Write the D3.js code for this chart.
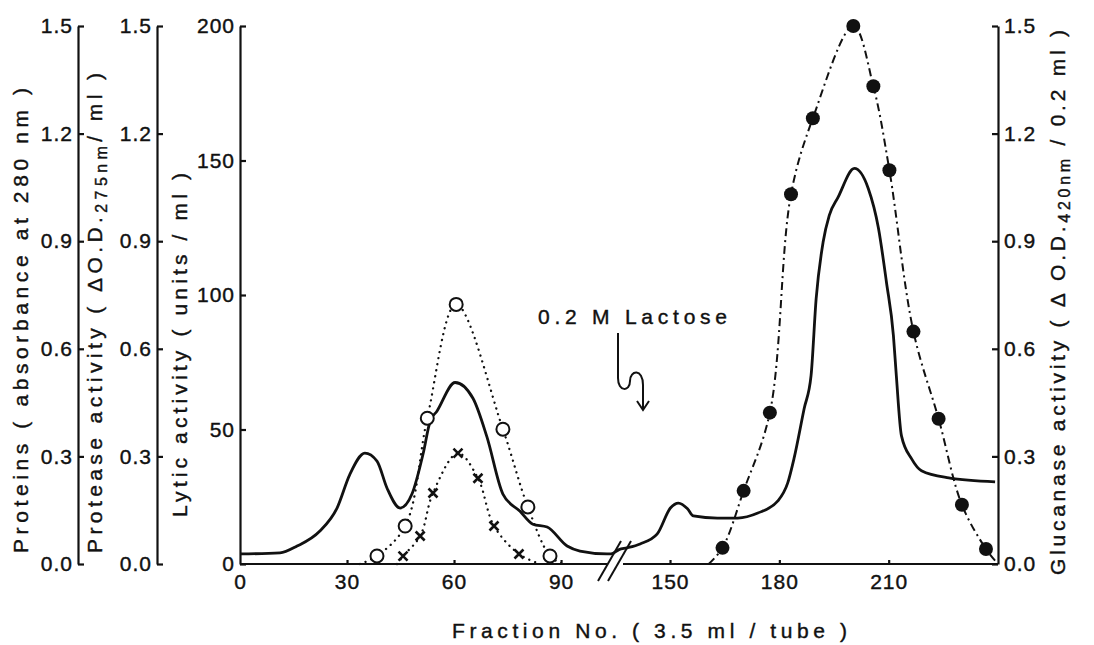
<!DOCTYPE html>
<html>
<head>
<meta charset="utf-8">
<style>
    body { margin: 0; background: #fff; }
    svg { display: block; font-family: "Liberation Sans", Arial, sans-serif; }
    .axis text { font-size: 21px; fill: #111; letter-spacing: 1px; stroke: #111; stroke-width: 0.4; }
    .axis line, .axis path { stroke: #111; stroke-width: 2.2; }
    .title { font-size: 21px; fill: #111; stroke: #111; stroke-width: 0.4; }
    .sub { font-size: 16px; }
</style>
</head>
<body>
<svg width="1094" height="645"></svg>

<script src="https://d3js.org/d3.v7.min.js"></script>
<script>
    // fraction numbers and values
    let xTicks = [0, 30, 60, 90, 150, 180, 210]
    let odTicks = [0, 0.3, 0.6, 0.9, 1.2, 1.5]
    let lyticTicks = [0, 50, 100, 150, 200]

    // proteins, solid line (left axis 1)
    let proteinFrac = [0, 11.2, 16, 22.4, 27.2, 30.8, 35, 38.4, 41.2, 44.9,
        48.2, 51.3, 53.3, 55.2, 60.3, 65.3, 69.2, 73.7, 78.5, 82.1,
        86.1, 91.7, 95.3, 102.9, 104, 136, 138.2, 141.8, 146.5, 150.1,
        152.3, 154.8, 156.4, 163, 168.6, 174.1, 179.6, 182.3, 184, 186.8,
        188.7, 190.1, 192, 193.7, 196.1, 200.6, 204.4, 207.2, 209.4, 211.3,
        212.1, 213.5, 216.3, 219, 226.5, 239.2]
    let proteinAbs = [0.028, 0.031, 0.050, 0.092, 0.156, 0.250, 0.309, 0.287, 0.212, 0.156,
        0.195, 0.306, 0.398, 0.426, 0.506, 0.462, 0.355, 0.195, 0.147, 0.111,
        0.103, 0.050, 0.036, 0.028, 0.028, 0.040, 0.045, 0.056, 0.084, 0.156,
        0.170, 0.154, 0.134, 0.128, 0.128, 0.142, 0.176, 0.226, 0.293, 0.433,
        0.525, 0.740, 0.897, 0.972, 1.022, 1.103, 1.047, 0.936, 0.785, 0.637,
        0.525, 0.358, 0.293, 0.260, 0.240, 0.229]

    // lytic activity, open circles
    let lyticFrac = [38.4, 46.3, 52.5, 60.6, 73.7, 80.7, 86.9]
    let lyticUnits = [3.0, 14.1, 54.2, 96.5, 50.1, 21.2, 3.0]
    let lyticEnds = [33.6, 90.5]

    // protease activity, crosses
    let proteaseFrac = [45.7, 50.5, 54.1, 61.1, 66.7, 71.2, 78.2]
    let proteaseOD = [0.022, 0.078, 0.198, 0.309, 0.239, 0.106, 0.028]
    let proteaseEnds = [44.0, 84.1]

    // glucanase activity, filled circles (right axis)
    let glucFrac = [164.4, 170.2, 177.4, 183.2, 189.2, 200.3, 205.8, 210.2, 216.8, 223.7, 230.1, 236.7]
    let glucOD = [0.045, 0.204, 0.422, 1.031, 1.243, 1.500, 1.332, 1.098, 0.648, 0.405, 0.165, 0.042]
    let glucEnds = [160.6, 240]

    let svg = d3.select("svg")
    let plotBottom = 564, plotTop = 26

    // broken x axis: 0-104 | 136-240
    let x = d3.scaleLinear()
        .domain([0, 104, 136, 240])
        .range([240, 611, 619, 998])

    let yOD = d3.scaleLinear().domain([0, 1.5]).range([plotBottom, plotTop])
    let yLytic = d3.scaleLinear().domain([0, 200]).range([plotBottom, plotTop])

    // ---- axes ----
    function leftAxis(scale, ticks, xpos, fmt) {
        svg.append("g")
            .attr("class", "axis")
            .attr("transform", `translate(${xpos},0)`)
            .call(d3.axisLeft(scale)
                .tickValues(ticks)
                .tickFormat(fmt)
                .tickSizeInner(-6)
                .tickSizeOuter(0)
                .tickPadding(5))
    }
    leftAxis(yOD, odTicks, 78, d3.format(".1f"))
    leftAxis(yOD, odTicks, 157, d3.format(".1f"))
    leftAxis(yLytic, lyticTicks, 240, d3.format("d"))

    svg.append("g")
        .attr("class", "axis")
        .attr("transform", `translate(998,0)`)
        .call(d3.axisRight(yOD)
            .tickValues(odTicks)
            .tickFormat(d3.format(".1f"))
            .tickSizeInner(-6)
            .tickSizeOuter(0)
            .tickPadding(6))

    let xAxis = svg.append("g")
        .attr("class", "axis")
        .attr("transform", `translate(0,${plotBottom})`)
        .call(d3.axisBottom(x)
            .tickValues(xTicks)
            .tickFormat(d3.format("d"))
            .tickSizeInner(-4)
            .tickSizeOuter(0)
            .tickPadding(10))
    xAxis.select(".domain").remove()
    xAxis.selectAll(".tick").filter(d => d == 0).select("line").remove()

    // baseline in two pieces with break marks
    svg.append("line")
        .attr("x1", x(0)).attr("x2", x(104) - 4)
        .attr("y1", plotBottom).attr("y2", plotBottom)
        .style("stroke", "#111").style("stroke-width", 2.2)
    svg.append("line")
        .attr("x1", x(136) + 4).attr("x2", x(240))
        .attr("y1", plotBottom).attr("y2", plotBottom)
        .style("stroke", "#111").style("stroke-width", 2.2)

    let bx = (x(104) + x(136)) / 2
    ;[-5, 5].forEach(off => {
        svg.append("line")
            .attr("x1", bx + off - 12).attr("y1", plotBottom + 17)
            .attr("x2", bx + off + 11).attr("y2", plotBottom - 23)
            .style("stroke", "#111").style("stroke-width", 2)
    })

    // ---- lines ----
    let solid = d3.line()
        .x(d => x(d[0]))
        .y(d => yOD(d[1]))
        .curve(d3.curveMonotoneX)

    svg.append("path")
        .datum(proteinFrac.map((f, i) => [f, proteinAbs[i]]))
        .attr("d", solid)
        .style("fill", "none")
        .style("stroke", "#111")
        .style("stroke-width", 2.8)

    let withEnds = (frac, vals, ends) =>
        [[ends[0], 0]].concat(frac.map((f, i) => [f, vals[i]]), [[ends[1], 0]])

    let lyticLine = d3.line()
        .x(d => x(d[0]))
        .y(d => yLytic(d[1]))
        .curve(d3.curveCatmullRom)

    let odLine = d3.line()
        .x(d => x(d[0]))
        .y(d => yOD(d[1]))
        .curve(d3.curveCatmullRom)

    svg.append("path")
        .datum(withEnds(lyticFrac, lyticUnits, lyticEnds))
        .attr("d", lyticLine)
        .style("fill", "none")
        .style("stroke", "#111")
        .style("stroke-width", 2.3)
        .style("stroke-linecap", "round")
        .style("stroke-dasharray", "0.1 6")

    svg.append("path")
        .datum(withEnds(proteaseFrac, proteaseOD, proteaseEnds))
        .attr("d", odLine)
        .style("fill", "none")
        .style("stroke", "#111")
        .style("stroke-width", 2.3)
        .style("stroke-linecap", "round")
        .style("stroke-dasharray", "0.1 6")

    svg.append("path")
        .datum(withEnds(glucFrac, glucOD, glucEnds))
        .attr("d", odLine)
        .style("fill", "none")
        .style("stroke", "#111")
        .style("stroke-width", 2)
        .style("stroke-dasharray", "8 4 2 4")

    // ---- markers ----
    svg.append("g")
        .selectAll("circle")
        .data(lyticFrac)
        .join("circle")
        .attr("cx", d => x(d))
        .attr("cy", (d, i) => yLytic(lyticUnits[i]))
        .attr("r", 6.5)
        .style("fill", "#fff")
        .style("stroke", "#111")
        .style("stroke-width", 2)

    svg.append("g")
        .selectAll("path")
        .data(proteaseFrac)
        .join("path")
        .attr("transform", (d, i) => `translate(${x(d)},${yOD(proteaseOD[i])})`)
        .attr("d", "M-4.5,-4.5L4.5,4.5M-4.5,4.5L4.5,-4.5")
        .style("stroke", "#111")
        .style("stroke-width", 2.6)

    svg.append("g")
        .selectAll("circle")
        .data(glucFrac)
        .join("circle")
        .attr("cx", d => x(d))
        .attr("cy", (d, i) => yOD(glucOD[i]))
        .attr("r", 7)
        .style("fill", "#111")

    // ---- annotation ----
    svg.append("text")
        .attr("class", "title")
        .attr("x", 538).attr("y", 324)
        .attr("textLength", 189)
        .attr("lengthAdjust", "spacing")
        .text("0.2 M  Lactose")

    svg.append("path")
        .attr("d", "M618,333 L618,378 C618,392 630,392 630,381 C630,370 643,368 643,385 L643,409")
        .style("fill", "none").style("stroke", "#111").style("stroke-width", 2)
    svg.append("path")
        .attr("d", "M637,401 L643,410 L649,401")
        .style("fill", "none").style("stroke", "#111").style("stroke-width", 2)

    // ---- axis titles ----
    function vTitle(tx, ty, len, parts) {
        let t = svg.append("text")
            .attr("class", "title")
            .attr("transform", `translate(${tx},${ty}) rotate(-90)`)
            .attr("textLength", len)
            .attr("lengthAdjust", "spacing")
        parts.forEach(p => {
            let s = t.append("tspan").text(p.t)
            if (p.sub) s.attr("class", "sub").attr("dy", 5)
            if (p.back) s.attr("dy", -5)
        })
    }
    vTitle(28, 553, 465, [{ t: "Proteins ( absorbance  at  280 nm )" }])
    vTitle(102, 553, 480, [
        { t: "Protease  activity ( ΔO.D." },
        { t: "275nm", sub: true },
        { t: "/ ml )", back: true }])
    vTitle(187, 517, 344, [{ t: "Lytic  activity ( units / ml )" }])
    vTitle(1065, 575, 545, [
        { t: "Glucanase  activity ( Δ O.D." },
        { t: "420nm", sub: true },
        { t: " / 0.2 ml )", back: true }])

    svg.append("text")
        .attr("class", "title")
        .attr("x", 452).attr("y", 638)
        .attr("textLength", 395)
        .attr("lengthAdjust", "spacing")
        .text("Fraction No. ( 3.5 ml / tube )")
</script>
</body>
</html>
